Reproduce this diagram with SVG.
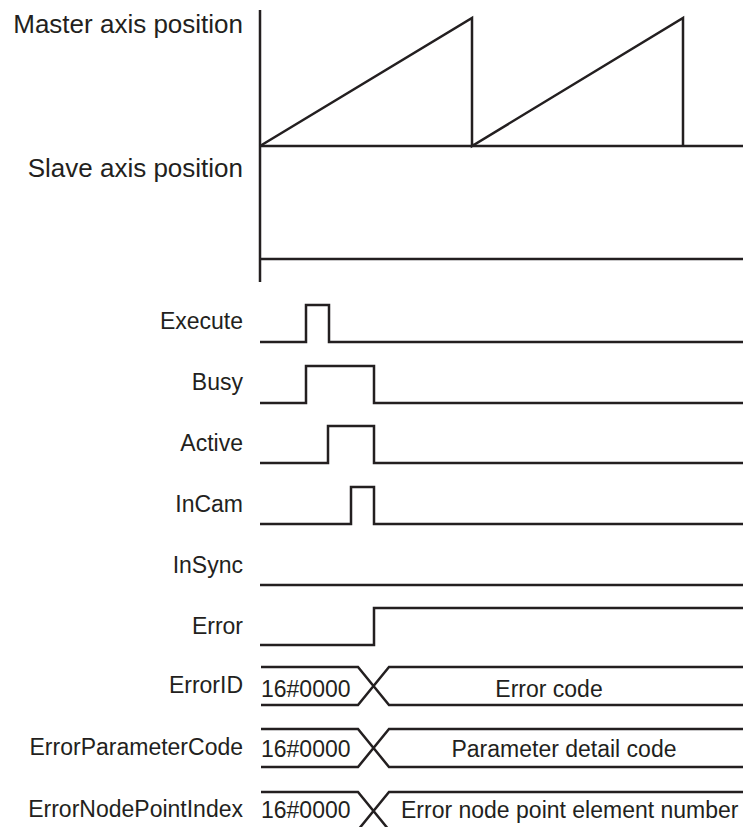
<svg xmlns="http://www.w3.org/2000/svg" width="743" height="827" viewBox="0 0 743 827">
<style>
.ln{fill:none;stroke:#231f20;stroke-width:2.5;stroke-linejoin:miter}
.lb{font-family:"Liberation Sans",Arial,sans-serif;fill:#231f20;font-size:23px}
.big{font-size:26px}
.r{text-anchor:end}
.m{text-anchor:middle}
</style>
<rect width="743" height="827" fill="#fff"/>
<g id="axes">
<text class="lb big r" x="243" y="33">Master axis position</text>
<text class="lb big r" x="243" y="177">Slave axis position</text>
<path class="ln" d="M260,10 V282"/>
<path class="ln" d="M260,146 H743"/>
<path class="ln" d="M260,259 H743"/>
<path class="ln" d="M260,146 L472,18 V146 L683,18 V146"/>
</g>
<g id="Execute">
<text class="lb r" x="243" y="329">Execute</text>
<path class="ln" d="M260,342 H306 V305 H329 V342 H743"/>
</g>
<g id="Busy">
<text class="lb r" x="243" y="390">Busy</text>
<path class="ln" d="M260,403 H306 V366 H374 V403 H743"/>
</g>
<g id="Active">
<text class="lb r" x="243" y="451">Active</text>
<path class="ln" d="M260,463 H328 V426 H374 V463 H743"/>
</g>
<g id="InCam">
<text class="lb r" x="243" y="512">InCam</text>
<path class="ln" d="M260,524 H351 V487 H374 V524 H743"/>
</g>
<g id="InSync">
<text class="lb r" x="243" y="573">InSync</text>
<path class="ln" d="M260,585 H743"/>
</g>
<g id="Error">
<text class="lb r" x="243" y="634">Error</text>
<path class="ln" d="M260,645 H374 V608 H743"/>
</g>
<g id="ErrorID">
<text class="lb r" x="243" y="693">ErrorID</text>
<path class="ln" d="M261,667 H358 L389,705 H743 M261,705 H358 L389,667 H743"/>
<text class="lb" x="261" y="697">16#0000</text>
<text class="lb m" x="549" y="697">Error code</text>
</g>
<g id="ErrorParameterCode">
<text class="lb r" x="243" y="755">ErrorParameterCode</text>
<path class="ln" d="M261,729 H358 L389,767 H743 M261,767 H358 L389,729 H743"/>
<text class="lb" x="261" y="757">16#0000</text>
<text class="lb m" x="564" y="757">Parameter detail code</text>
</g>
<g id="ErrorNodePointIndex">
<text class="lb r" x="243" y="817">ErrorNodePointIndex</text>
<path class="ln" d="M261,792 H358 L389,830 H743 M261,830 H358 L389,792 H743"/>
<text class="lb" x="261" y="818">16#0000</text>
<text class="lb" x="401" y="818">Error node point element number</text>
</g>
</svg>
